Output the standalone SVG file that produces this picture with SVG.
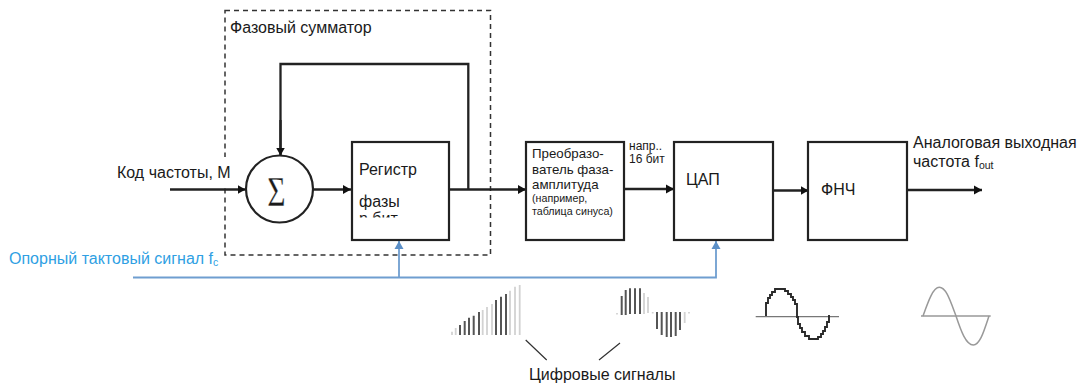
<svg xmlns="http://www.w3.org/2000/svg" width="1086" height="385" viewBox="0 0 1086 385">
<style>
text{font-family:"Liberation Sans",Arial,sans-serif;fill:#1a1a1a;font-size:16px}
.box{fill:#fff;stroke:#222;stroke-width:2.200}
.ln{fill:none;stroke:#222;stroke-width:2.300}
.clk{fill:none;stroke:#6f9ed0;stroke-width:1.800}
text.blue{fill:#2f9fe3}
.s{font-size:10.700px}
.sm{font-size:13.300px}
.n{font-size:12px}
.b1{stroke:#555;stroke-width:2}
.b2{stroke:#d2d2d2;stroke-width:1.800}
</style>
<defs>
<marker id="ah" markerUnits="userSpaceOnUse" markerWidth="9" markerHeight="10" refX="8" refY="5" orient="auto"><path d="M0 0.500L8 5L0 9.500Z" fill="#111"/></marker>
<marker id="ab" markerUnits="userSpaceOnUse" markerWidth="9" markerHeight="10" refX="8" refY="5" orient="auto"><path d="M0 0.500L8 5L0 9.500Z" fill="#5b8fc7"/></marker>
<clipPath id="reg"><rect x="352" y="142" width="97" height="75.500"/></clipPath>
</defs>
<g id="adder-frame"><rect x="225" y="10.500" width="265.500" height="244.500" fill="none" stroke="#333" stroke-width="1.500" stroke-dasharray="5 4"/><rect x="117" y="157" width="114" height="30" fill="#fff"/><text x="230" y="33">Фазовый сумматор</text></g>
<g id="connectors">
<path class="ln" d="M280.500 155V64H468.300V189"/>
<path class="ln" d="M280.500 120V155.500" marker-end="url(#ah)"/>
<path class="ln" d="M170 189.500H245.500" marker-end="url(#ah)"/>
<path class="ln" d="M313 189.500H351" marker-end="url(#ah)"/>
<path class="ln" d="M449 189.500H526" marker-end="url(#ah)"/>
<path class="ln" d="M624 189H674" marker-end="url(#ah)"/>
<path class="ln" d="M773 190.500H808.500" marker-end="url(#ah)"/>
<path class="ln" d="M907 190H982" marker-end="url(#ah)"/>
<path class="clk" d="M133 277.500H716V241" marker-end="url(#ab)"/>
<path class="clk" d="M399 277.500V241" marker-end="url(#ab)"/>
<path d="M525.700 340L546.700 360M620 343L599 360" fill="none" stroke="#333" stroke-width="1.200"/>
</g>
<g id="sum"><circle class="box" cx="279.500" cy="189" r="33.500"/><text transform="translate(276.500 205.500) scale(0.75 1)" text-anchor="middle" stroke="#fff" stroke-width="0.300" style="font-family:'Liberation Serif',serif;font-size:42px">Σ</text></g>
<g id="register"><rect class="box" x="352" y="142" width="97" height="98"/><g clip-path="url(#reg)"><text x="359" y="175">Регистр</text><text x="359" y="207">фазы</text><text x="359" y="224">n бит</text></g></g>
<g id="converter"><rect class="box" x="526" y="142" width="98" height="98"/><text class="sm" x="532" y="158">Преобразо-</text><text class="sm" x="532" y="174">ватель фаза-</text><text class="sm" x="532" y="189">амплитуда</text><text class="s" x="532" y="202">(например,</text><text class="s" x="532" y="215">таблица синуса)</text></g>
<g id="dac"><rect class="box" x="674" y="142" width="99" height="98"/><text x="686" y="185">ЦАП</text></g>
<g id="lpf"><rect class="box" x="808" y="142" width="99" height="98"/><text x="821" y="195">ФНЧ</text></g>
<g id="labels">
<text x="117" y="177.500">Код частоты, М</text>
<text class="blue" x="9" y="264">Опорный тактовый сигнал f<tspan font-size="10.500" dy="2">c</tspan></text>
<text class="n" x="629" y="150">напр..</text>
<text class="n" x="629" y="163">16 бит</text>
<text x="913" y="148">Аналоговая выходная</text>
<text x="913" y="167">частота f<tspan font-size="10.500" dy="2">out</tspan></text>
<text x="529" y="380">Цифровые сигналы</text>
</g>
<g id="signal-ramp">
<path class="b2" d="M452 335V331.700M455.700 335V328M482.700 335V310M487 335V307M492 335V304M510 335V290.700M515 335V286.700M519.700 335V285"/>
<path class="b1" d="M460 335V325M464.700 335V321M469 335V317.700M473.700 335V315.700M479 335V312M496 335V300M501 335V296.700M506 335V294"/>
</g>
<g id="signal-samples">
<path class="b1" d="M621.700 315V296M625.700 315V290M630 314V288.300M635 314V288.300M640 314V288.300M657 312V329M661.700 312V335M666.700 312V337M671 312V337M675.700 312V336M680 312V330"/>
<path class="b2" d="M617 313V314.500M644 314V293M648 313V297M652.700 312V313.500M684.700 312V323M689 312V313.500"/>
</g>
<g id="signal-stepped" fill="none"><path d="M755.700 316.700H839" stroke="#777" stroke-width="1.300"/><path d="M766 316V303H768V298H770V295H772V292H775V289H785V291H788V294H791V297H793V300H795V304H797V317H798V324H800V328H802V332H805V336H809V339H818V337H821V334H823V331H825V327H827V322H829V315" stroke="#2a2a2a" stroke-width="1.900"/></g>
<g id="signal-sine" fill="none" stroke="#999" stroke-width="1.500"><path d="M921 316H990.700"/><path d="M923 316C928 302 933 287.300 939.300 287.300C946 287.300 950 300 956 316C961 331 966 345 973.300 345C980 345 984 331 989 316"/></g>
</svg>
